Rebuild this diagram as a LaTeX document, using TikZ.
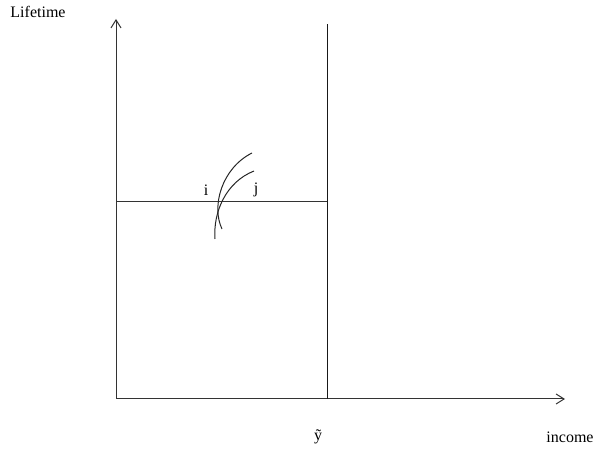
\documentclass[tikz,border=0pt]{standalone}
\usepackage{fontspec}
\setmainfont{Liberation Serif}
\usetikzlibrary{arrows.meta}

\begin{document}
\begin{tikzpicture}[x=0.5pt, y=-0.5pt, line width=0.5pt, >={Straight Barb[length=4pt,width=5pt]},
  lbl/.style={font=\fontsize{8}{9}\selectfont, inner sep=0pt}]
  \useasboundingbox (0,0) rectangle (595,453);
  % axes
  \coordinate (O) at (116,399);
  \coordinate (ytop) at (116,19);
  \coordinate (xend) at (565,399);
  \draw[->, black!80] (O) -- (ytop);
  \draw[->, black!80] (O) -- (xend);
  \node[lbl] (lifetime) at (38,12) {Lifetime};
  \node[lbl] (income) at (570,437) {income};
  % income bound
  \coordinate (ybar) at (327,399);
  \coordinate (ybartop) at (327,24);
  \draw[black!90] (ybar) -- (ybartop);
  \node[lbl] (ytilde) at (318,437) {ỹ};
  % lifetime level
  \coordinate (hl) at (116,202);
  \coordinate (hr) at (327,202);
  \draw[black!80] (hl) -- (hr);
  % indifference curves, crossing on the line
  \coordinate (ia) at (215,239);
  \coordinate (ib) at (254,171);
  \coordinate (ja) at (222,229);
  \coordinate (jb) at (252,153);
  \draw[black!85] (ia) .. controls (213,212) and (226,182) .. (ib);
  \draw[black!85] (ja) .. controls (211,206) and (222,168) .. (jb);
  \node[lbl] (i) at (206,190) {i};
  \node[lbl] (j) at (256,190) {j};
\end{tikzpicture}
\end{document}
